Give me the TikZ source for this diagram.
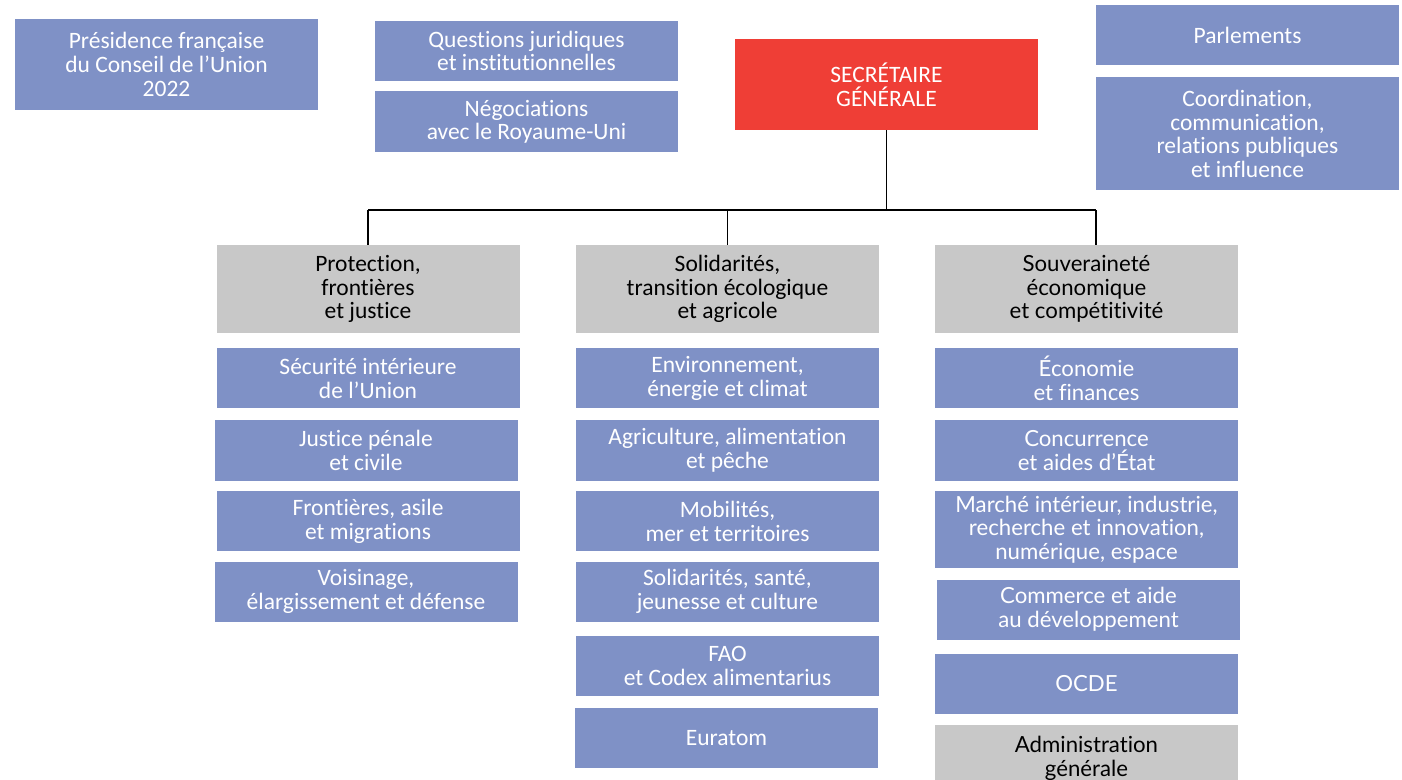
\documentclass[tikz,border=0pt]{standalone}
\usepackage{fontspec}
\setmainfont{Carlito}[Ligatures=NoCommon]
\newfontfamily\marianne{Lato}[Ligatures=NoCommon]
\usetikzlibrary{positioning}
\definecolor{sgblue}{RGB}{127,145,198}
\definecolor{sggrey}{RGB}{200,200,200}
\definecolor{sgred}{RGB}{239,62,54}

\begin{document}
\begin{tikzpicture}[x=1pt, y=-1pt,
        box/.style={rectangle, inner sep=2pt, minimum width=303pt, minimum height=60pt, align=center, font=\fontsize{23.5}{23.8}\selectfont},
        bluebox/.style={box, fill=sgblue, text=white},
        greybox/.style={box, fill=sggrey, text=black, minimum height=88pt},
        redbox/.style={box, fill=sgred, text=white, minimum height=91pt},
        mfont/.style={font=\marianne\fontsize{22.2}{23.8}\selectfont},
        link/.style={draw=black, line width=1.2pt}]
        \useasboundingbox (0,0) rectangle (1402,779);
        \clip (0,0) rectangle (1402,779);
        % top row
        \node[bluebox, minimum height=91pt] (presidence) at (166.5,64.5) {Présidence française\\du Conseil de l’Union\\2022};
        \node[bluebox] (questions) at (526.5,51) {Questions juridiques\\et institutionnelles};
        \node[bluebox, minimum height=61pt] (negociations) [below=10pt of questions] {Négociations\\avec le Royaume-Uni};
        \node[redbox] (sg) at (886.5,84.5) {SECRÉTAIRE\\GÉNÉRALE};
        \node[bluebox] (parlements) at (1247.5,35) {Parlements};
        \node[bluebox, minimum height=113pt] (coordination) [below=12pt of parlements] {Coordination,\\communication,\\relations publiques\\et influence};
        % three poles
        \node[greybox] (protection) at (368,289) {Protection,\\frontières\\et justice};
        \node[greybox] (solidarites) at (727.5,289) {Solidarités,\\transition écologique\\et agricole};
        \node[greybox, mfont] (souverainete) at (1086.5,289) {Souveraineté\\économique\\et compétitivité};
        % left column
        \node[bluebox] (securite) [below=15pt of protection] {Sécurité intérieure\\de l’Union};
        \node[bluebox, minimum height=61pt] (justice) [below=11pt of securite, xshift=-2pt] {Justice pénale\\et civile};
        \node[bluebox] (frontieres) [below=10pt of justice, xshift=2pt] {Frontières, asile\\et migrations};
        \node[bluebox] (voisinage) [below=10pt of frontieres, xshift=-2pt] {Voisinage,\\élargissement et défense};
        % middle column
        \node[bluebox] (environnement) [below=15pt of solidarites] {Environnement,\\énergie et climat};
        \node[bluebox, minimum height=61pt] (agriculture) [below=11pt of environnement] {Agriculture, alimentation\\et pêche};
        \node[bluebox] (mobilites) [below=10pt of agriculture] {Mobilités,\\mer et territoires};
        \node[bluebox] (sante) [below=10pt of mobilites] {Solidarités, santé,\\jeunesse et culture};
        \node[bluebox] (fao) [below=14pt of sante] {FAO\\et Codex alimentarius};
        \node[bluebox] (euratom) [below=12pt of fao, xshift=-1pt] {Euratom};
        % right column
        \node[bluebox, mfont] (economie) [below=15pt of souverainete] {Économie\\et finances};
        \node[bluebox, mfont, minimum height=61pt] (concurrence) [below=11pt of economie] {Concurrence\\et aides d’État};
        \node[bluebox, mfont, minimum height=77pt] (marche) [below=10pt of concurrence] {Marché intérieur, industrie,\\recherche et innovation,\\numérique, espace};
        \node[bluebox, mfont] (commerce) [below=11pt of marche, xshift=2pt] {Commerce et aide\\au développement};
        \node[bluebox, mfont] (ocde) [below=14pt of commerce, xshift=-2pt] {OCDE};
        \node[greybox, mfont, minimum height=62pt, text depth=0pt] (administration) [below=11pt of ocde] {Administration\\générale};
        % connectors
        \coordinate (busl) at (368,210);
        \coordinate (busr) at (1096,210);
        \draw[link] (sg.south) -- (sg.south |- busl);
        \draw[link] (busl) -- (busr);
        \draw[link] (busl) -- (protection.north);
        \draw[link] (solidarites.north |- busl) -- (solidarites.north);
        \draw[link] (busr) -- (busr |- souverainete.north);
\end{tikzpicture}
\end{document}
